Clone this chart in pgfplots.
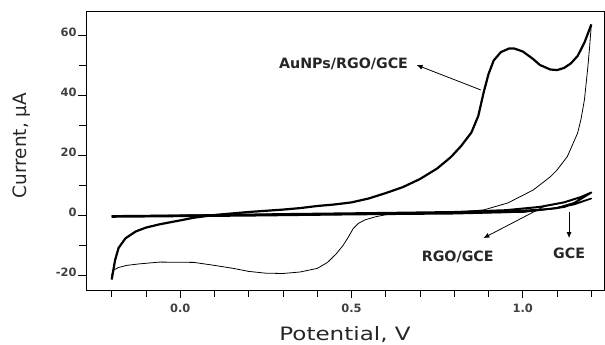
\documentclass[border=0pt]{standalone}
\usepackage{pgfplots}
\pgfplotsset{compat=1.18}
\usepackage{fontspec}
\setmainfont{DejaVu Sans}
\newfontfamily\boldlab{DejaVu Sans}
\usetikzlibrary{calc,arrows.meta}
\begin{document}
\begin{tikzpicture}
\begin{axis}[
  scale only axis, width=518bp, height=279bp,
  xmin=-0.275, xmax=1.237, ymin=-25, ymax=68,
  xtick={0,0.5,1.0}, minor xtick={-0.2,-0.1,0.1,0.2,0.3,0.4,0.6,0.7,0.8,0.9,1.1,1.2},
  ytick={-20,0,20,40,60}, minor ytick={-10,10,30,50},
  xticklabels={0.0,0.5,1.0},
  yticklabels={-20,0,20,40,60},
  tick align=outside, tick pos=left,
  major tick length=8bp, minor tick length=7bp,
  every tick/.style={black, line width=0.8pt},
  axis line style={line width=0.9pt},
  ticklabel style={font=\boldlab\bfseries\fontsize{11.5}{13}\selectfont, text=black!75},
  xticklabel style={yshift=-2bp},
  yticklabel style={yshift=3bp, xshift=2bp},
  xlabel={\scalebox{1.25}[1]{Potential, V}}, ylabel={Current, µA},
  label style={font=\fontsize{18.5}{20}\selectfont, text=black!85},
  xlabel style={at={(rel axis cs:0.5,0)}, anchor=base, yshift=-51bp},
  ylabel style={at={(rel axis cs:0,0.5)}, anchor=center, xshift=5bp, yshift=64.5bp},
  clip=false,
]
% AuNPs/RGO/GCE forward (thick)
\addplot[black, line width=2.2pt, line join=round] coordinates {
(-0.2,-21.5) (-0.19,-15) (-0.18,-11) (-0.16,-7.8) (-0.13,-5.5) (-0.1,-4.2) (-0.06,-3.1) (0.0,-1.8) (0.04,-0.9) (0.1,0) (0.2,1) (0.3,1.8) (0.35,2.3) (0.4,3) (0.45,3.5) (0.5,4.2) (0.55,5.5) (0.6,7.3) (0.65,9.3) (0.7,12) (0.75,15.5) (0.79,19.3) (0.82,23) (0.85,27.5) (0.87,33) (0.886,41) (0.9,47) (0.915,51.5) (0.936,54.3) (0.96,55.5) (0.975,55.5) (1.0,54.5) (1.03,52) (1.05,50) (1.08,48.5) (1.1,48.3) (1.12,49) (1.14,50.5) (1.16,53) (1.18,57.5) (1.19,60.5) (1.2,63.5)
};
% AuNPs/RGO/GCE reverse (thin)
\addplot[black, line width=0.8pt, line join=round] coordinates {
(1.2,63.5) (1.195,56) (1.19,49.5) (1.18,38.5) (1.17,32) (1.16,27.3) (1.13,19.5) (1.1,15) (1.08,12.7) (1.03,8.3) (0.956,4) (0.886,1.7) (0.8,0.9) (0.74,0.7) (0.65,0.4) (0.6,0.1) (0.57,-0.6) (0.54,-1.6) (0.52,-2.8) (0.505,-4.5) (0.49,-7.5) (0.475,-10.2) (0.455,-13) (0.43,-15.8) (0.4,-17.8) (0.35,-19) (0.3,-19.5) (0.25,-19.4) (0.2,-18.8) (0.155,-17.8) (0.1,-16.8) (0.04,-15.8) (-0.06,-15.7) (-0.12,-16.3) (-0.156,-16.8) (-0.18,-17.5) (-0.196,-18.5) (-0.2,-20) (-0.2,-21.5)
};
% RGO/GCE
\addplot[black, line width=2pt, line join=round] coordinates {
(-0.2,-0.5) (0.0,-0.2) (0.3,0.3) (0.6,0.7) (0.8,1.0) (0.95,1.6) (1.05,2.7) (1.12,4.2) (1.17,6) (1.2,7.5)
(1.15,4) (1.1,2.3) (1.0,1.1) (0.8,0.5) (0.5,0.2) (0.2,-0.2) (-0.2,-0.6)
};
% GCE
\addplot[black, line width=1.6pt, line join=round] coordinates {
(-0.2,-0.3) (0.3,0.2) (0.7,0.6) (0.95,1.2) (1.08,2) (1.15,3.5) (1.2,5.5)
(1.12,2.6) (1.0,1.0) (0.6,0.4) (0.2,0) (-0.2,-0.4)
};
% annotations
\node[font=\boldlab\bfseries\fontsize{14.3}{16}\selectfont, text=black!85, anchor=east] at (axis cs:0.675,50.5) {AuNPs/RGO/GCE};
\draw[-{Latex[length=6bp,width=5bp]}, line width=0.8pt] (axis cs:0.877,41.7) -- (axis cs:0.69,50);
\node[font=\boldlab\bfseries\fontsize{14.3}{16}\selectfont, text=black!85] at (axis cs:0.81,-14) {RGO/GCE};
\draw[-{Latex[length=6bp,width=5bp]}, line width=0.8pt] (axis cs:1.06,2.7) -- (axis cs:0.885,-7.7);
\node[font=\boldlab\bfseries\fontsize{14.3}{16}\selectfont, text=black!85] at (axis cs:1.135,-12.7) {GCE};
\draw[-{Latex[length=6bp,width=5bp]}, line width=0.8pt] (axis cs:1.135,1) -- (axis cs:1.135,-7.7);
\end{axis}
\pgfresetboundingbox
\path ($(current axis.south west)+(-86bp,-55bp)$) rectangle ($(current axis.north east)+(1bp,11bp)$);
\end{tikzpicture}
\end{document}
